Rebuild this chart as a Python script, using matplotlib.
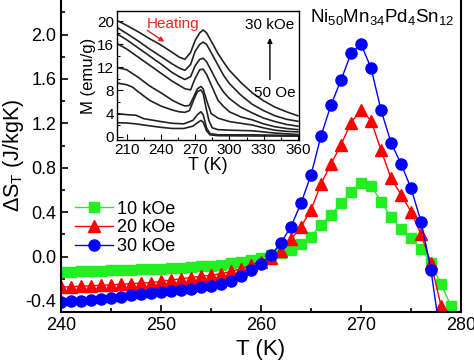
import matplotlib
matplotlib.use("Agg")
import matplotlib.pyplot as plt
from matplotlib.ticker import MultipleLocator, FormatStrFormatter

plt.rcParams["font.family"] = ["Liberation Sans", "DejaVu Sans"]
plt.rcParams["mathtext.fontset"] = "custom"
plt.rcParams["mathtext.rm"] = "Liberation Sans"
plt.rcParams["mathtext.it"] = "Liberation Sans:italic"

# -----------------------------
# Data: main panel (entropy change)
# -----------------------------
temps_10 = list(range(240, 280))
ds_10koe = [-0.141, -0.138, -0.135, -0.132, -0.129, -0.126, -0.123, -0.120, -0.117, -0.114,
            -0.110, -0.106, -0.100, -0.096, -0.087, -0.083, -0.075, -0.060, -0.045, -0.030,
            -0.010, 0.012, 0.030, 0.060, 0.115, 0.180, 0.285, 0.375, 0.480, 0.577,
            0.667, 0.637, 0.495, 0.355, 0.250, 0.166, 0.067, -0.060, -0.250, -0.445]

temps_20 = list(range(240, 279))
ds_20koe = [-0.276, -0.272, -0.268, -0.264, -0.260, -0.255, -0.250, -0.245, -0.240, -0.235,
            -0.224, -0.212, -0.200, -0.190, -0.178, -0.168, -0.155, -0.135, -0.110, -0.075,
            -0.045, -0.010, 0.050, 0.157, 0.270, 0.420, 0.655, 0.835, 1.006, 1.207,
            1.320, 1.225, 0.960, 0.706, 0.556, 0.405, 0.200, -0.060, -0.444]

temps_30 = list(range(240, 279))
ds_30koe = [-0.411, -0.405, -0.399, -0.390, -0.381, -0.372, -0.363, -0.351, -0.339, -0.330,
            -0.321, -0.312, -0.300, -0.292, -0.279, -0.264, -0.249, -0.219, -0.180, -0.126,
            -0.066, 0.012, 0.125, 0.270, 0.480, 0.735, 1.087, 1.366, 1.590, 1.830,
            1.913, 1.700, 1.320, 1.027, 0.835, 0.616, 0.315, -0.126, -0.750]

# -----------------------------
# Data: inset M(T), 50 Oe ... 30 kOe (top curve = 30 kOe)
# -----------------------------
t_high = [201, 210, 220, 230, 240, 250, 256, 261, 266, 270, 274, 277, 280, 284,
          290, 295, 300, 310, 320, 330, 340, 350, 360]
m_c1 = [20.2, 19.3, 18.2, 17.0, 15.9, 14.6, 13.8, 13.4, 14.6, 16.7, 18.0, 18.5, 18.0, 16.6,
        14.4, 12.9, 11.5, 9.4, 7.6, 6.2, 5.1, 4.3, 3.6]
m_c2 = [19.0, 17.9, 16.6, 15.2, 13.9, 12.6, 11.9, 11.5, 12.5, 14.8, 16.0, 16.4, 16.0, 14.6,
        12.4, 10.6, 9.2, 7.2, 5.6, 4.5, 3.6, 3.0, 2.65]
m_c3 = [17.9, 16.8, 15.4, 14.0, 12.6, 11.1, 10.4, 9.9, 10.4, 12.3, 13.4, 13.6, 13.0, 11.5,
        9.2, 7.7, 6.6, 5.1, 4.1, 3.2, 2.6, 2.1, 1.8]
m_c4 = [16.2, 15.2, 13.8, 12.4, 11.0, 9.6, 8.9, 8.3, 8.1, 10.1, 11.6, 11.7, 10.8, 9.0,
        6.3, 5.2, 4.3, 3.4, 2.9, 2.2, 1.7, 1.4, 1.2]

t_c5 = [201, 210, 220, 230, 240, 250, 256, 261, 265, 269, 272, 275, 277, 280, 284,
        290, 300, 310, 320, 330, 340, 350, 360]
m_c5 = [12.0, 11.6, 10.3, 8.8, 7.6, 6.3, 5.7, 5.3, 5.4, 7.0, 8.3, 8.7, 8.3, 6.3, 4.0,
        3.2, 2.6, 2.3, 2.0, 1.5, 1.1, 0.9, 0.8]

t_c6 = [201, 210, 215, 220, 230, 240, 250, 256, 261, 265, 269, 272, 275, 277, 279, 282,
        285, 290, 300, 320, 340, 360]
m_c6 = [9.3, 9.0, 8.6, 7.8, 6.3, 5.3, 4.6, 4.3, 4.2, 4.5, 6.5, 7.8, 8.1, 7.5, 5.5, 2.8,
        1.5, 1.2, 1.1, 1.0, 0.6, 0.35]

t_low = [201, 210, 218, 225, 240, 250, 260, 268, 272, 275, 277, 280, 283, 290, 320, 360]
m_c7 = [4.0, 3.8, 3.7, 3.1, 2.6, 2.3, 2.2, 2.8, 3.8, 4.3, 3.8, 1.5, 0.5, 0.3, 0.3, 0.17]
m_c8 = [2.4, 2.35, 2.2, 2.0, 1.6, 1.4, 1.4, 1.8, 2.4, 2.8, 2.5, 1.0, 0.3, 0.15, 0.1, 0.07]

# -----------------------------
# Plot
# -----------------------------
fig = plt.figure(figsize=(4.74, 3.64), dpi=100)
ax = fig.add_axes([0.1287, 0.1429, 0.8439, 0.8626])

ax.plot(temps_10, ds_10koe, color="#22ee22", marker="s", markersize=6.5, linewidth=1.0,
        label="10 kOe")
ax.plot(temps_20, ds_20koe, color="#ff0000", marker="^", markersize=8, linewidth=1.0,
        label="20 kOe")
ax.plot(temps_30, ds_30koe, color="#0000ff", marker="o", markersize=8, linewidth=1.0,
        label="30 kOe")

ax.set_xlim(240, 280)
ax.set_ylim(-0.5, 2.33)
ax.xaxis.set_major_locator(MultipleLocator(10))
ax.xaxis.set_minor_locator(MultipleLocator(5))
ax.yaxis.set_major_locator(MultipleLocator(0.4))
ax.yaxis.set_minor_locator(MultipleLocator(0.2))
ax.yaxis.set_major_formatter(FormatStrFormatter("%.1f"))
ax.tick_params(which="both", direction="in", labelsize=13, width=1.2)
ax.tick_params(which="major", length=5)
ax.tick_params(which="minor", length=3)
for s in ax.spines.values():
    s.set_linewidth(1.5)

ax.set_xlabel("T (K)", fontsize=16, labelpad=4)
ax.set_ylabel(r"$\Delta$S$_\mathrm{T}$ (J/kgK)", fontsize=15.5)
ax.yaxis.set_label_coords(-0.088, 0.5)

ax.legend(loc="upper left", bbox_to_anchor=(0.035, 0.355), frameon=False, fontsize=13,
          numpoints=1, handlelength=2.1, handletextpad=0.25, labelspacing=0.1,
          borderpad=0, borderaxespad=0)

fig.text(0.958, 0.94, r"Ni$_{50}$Mn$_{34}$Pd$_{4}$Sn$_{12}$", fontsize=13.5,
         ha="right", va="baseline")

# -----------------------------
# Inset
# -----------------------------
ins = fig.add_axes([0.2468, 0.6154, 0.384, 0.3544])
for t, m in [(t_high, m_c1), (t_high, m_c2), (t_high, m_c3), (t_high, m_c4),
             (t_c5, m_c5), (t_c6, m_c6), (t_low, m_c7), (t_low, m_c8)]:
    ins.plot(t, m, color="#222222", linewidth=1.2)

ins.set_xlim(201.5, 361)
ins.set_ylim(-0.6, 21.8)
ins.xaxis.set_major_locator(MultipleLocator(30))
ins.xaxis.set_minor_locator(MultipleLocator(15))
ins.yaxis.set_major_locator(MultipleLocator(4))
ins.yaxis.set_minor_locator(MultipleLocator(2))
ins.tick_params(which="both", direction="in", labelsize=11, width=0.8, pad=2)
ins.tick_params(which="major", length=4)
ins.tick_params(which="minor", length=2)
for s in ins.spines.values():
    s.set_linewidth(1.0)
ins.set_xlabel("T (K)", fontsize=13, labelpad=0)
ins.set_ylabel("M (emu/g)", fontsize=12, labelpad=1)

ins.text(228, 19.6, "Heating", color="#ee2222", fontsize=11, ha="left", va="center")
ins.annotate("", xy=(245, 16.2), xytext=(226, 18.7),
             arrowprops=dict(arrowstyle="-|>", color="#ee2222", lw=1.0, mutation_scale=7))
ins.text(335.5, 19.3, "30 kOe", fontsize=11, ha="center", va="center")
ins.text(340, 7.5, "50 Oe", fontsize=11, ha="center", va="center")
ins.annotate("", xy=(335.5, 17.6), xytext=(335.5, 9.4),
             arrowprops=dict(arrowstyle="-|>", color="black", lw=1.0, mutation_scale=7))

fig.savefig("out.png", dpi=100)
